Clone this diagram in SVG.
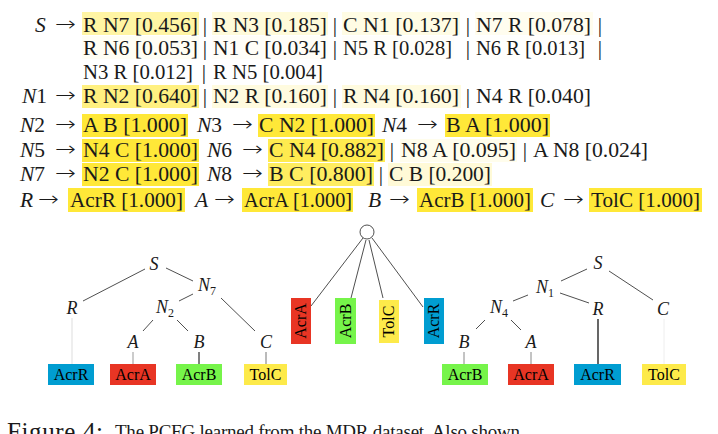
<svg xmlns="http://www.w3.org/2000/svg" width="718" height="434" viewBox="0 0 718 434">
<style>
text{font-family:"Liberation Serif","Times New Roman",serif;fill:#1a1a1a}
.g{font-size:21.5px}
.i{font-style:italic}
.a{font-family:"DejaVu Sans",sans-serif;font-size:20px;font-weight:300}
.hl{fill:#ffe838}
.lb{font-size:18px;font-style:italic;text-anchor:middle}
.sub{font-size:12px;font-style:normal}
.bx{font-size:16px;text-anchor:middle;fill:#000}
.e{stroke:#222;stroke-width:0.8;fill:none}
.acrr{fill:#009dd1}.acra{fill:#e83524}.acrb{fill:#76f44a}.tolc{fill:#fdea4a}
</style>
<rect width="718" height="434" fill="#fff"/>
<g id="grammar">
<!-- Row S -->
<text class="g i" x="35" y="32">S</text><text class="a" transform="translate(55,31) scale(1.25,1)">→</text>
<rect class="hl" x="82" y="12" width="117" height="23" fill-opacity="0.456"/><text class="g" x="83" y="32" textLength="115" lengthAdjust="spacingAndGlyphs">R N7 [0.456]</text>
<text class="g" x="205" y="32" text-anchor="middle">|</text>
<rect class="hl" x="212" y="12" width="116" height="23" fill-opacity="0.185"/><text class="g" x="213" y="32" textLength="114" lengthAdjust="spacingAndGlyphs">R N3 [0.185]</text>
<text class="g" x="335" y="32" text-anchor="middle">|</text>
<rect class="hl" x="342" y="12" width="118" height="23" fill-opacity="0.137"/><text class="g" x="343" y="32" textLength="116" lengthAdjust="spacingAndGlyphs">C N1 [0.137]</text>
<text class="g" x="468" y="32" text-anchor="middle">|</text>
<rect class="hl" x="475" y="12" width="118" height="23" fill-opacity="0.078"/><text class="g" x="476" y="32" textLength="115" lengthAdjust="spacingAndGlyphs">N7 R [0.078]</text>
<text class="g" x="600" y="32" text-anchor="middle">|</text>
<!-- Row 2 -->
<rect class="hl" x="82" y="36" width="117" height="23" fill-opacity="0.053"/><text class="g" x="83" y="55" textLength="115" lengthAdjust="spacingAndGlyphs">R N6 [0.053]</text>
<text class="g" x="205" y="55" text-anchor="middle">|</text>
<rect class="hl" x="212" y="36" width="116" height="23" fill-opacity="0.034"/><text class="g" x="213" y="55" textLength="114" lengthAdjust="spacingAndGlyphs">N1 C [0.034]</text>
<text class="g" x="335" y="55" text-anchor="middle">|</text>
<rect class="hl" x="342" y="36" width="112" height="23" fill-opacity="0.028"/><text class="g" x="343" y="55" textLength="109" lengthAdjust="spacingAndGlyphs">N5 R [0.028]</text>
<text class="g" x="468" y="55" text-anchor="middle">|</text>
<rect class="hl" x="475" y="36" width="111" height="23" fill-opacity="0.013"/><text class="g" x="476" y="55" textLength="109" lengthAdjust="spacingAndGlyphs">N6 R [0.013]</text>
<text class="g" x="600" y="55" text-anchor="middle">|</text>
<!-- Row 3 -->
<text class="g" x="83" y="79" textLength="110" lengthAdjust="spacingAndGlyphs">N3 R [0.012]</text>
<text class="g" x="204" y="79" text-anchor="middle">|</text>
<text class="g" x="213" y="79" textLength="110" lengthAdjust="spacingAndGlyphs">R N5 [0.004]</text>
<!-- Row N1 -->
<text class="g i" x="22" y="103">N<tspan font-style="normal">1</tspan></text><text class="a" transform="translate(55,102) scale(1.25,1)">→</text>
<rect class="hl" x="82" y="85" width="117" height="23" fill-opacity="0.64"/><text class="g" x="83" y="103" textLength="115" lengthAdjust="spacingAndGlyphs">R N2 [0.640]</text>
<text class="g" x="205" y="103" text-anchor="middle">|</text>
<rect class="hl" x="212" y="85" width="116" height="23" fill-opacity="0.16"/><text class="g" x="213" y="103" textLength="114" lengthAdjust="spacingAndGlyphs">N2 R [0.160]</text>
<text class="g" x="335" y="103" text-anchor="middle">|</text>
<rect class="hl" x="342" y="85" width="119" height="23" fill-opacity="0.16"/><text class="g" x="343" y="103" textLength="116" lengthAdjust="spacingAndGlyphs">R N4 [0.160]</text>
<text class="g" x="468" y="103" text-anchor="middle">|</text>
<text class="g" x="476" y="103" textLength="115" lengthAdjust="spacingAndGlyphs">N4 R [0.040]</text>
<!-- Row N2 -->
<text class="g i" x="20" y="132">N<tspan font-style="normal">2</tspan></text><text class="a" transform="translate(55,131) scale(1.25,1)">→</text>
<rect class="hl" x="82" y="114" width="106" height="23"/><text class="g" x="83" y="132" textLength="104" lengthAdjust="spacingAndGlyphs">A B [1.000]</text>
<text class="g i" x="197" y="132">N<tspan font-style="normal">3</tspan></text><text class="a" transform="translate(232,131) scale(1.25,1)">→</text>
<rect class="hl" x="258" y="114" width="117" height="23"/><text class="g" x="259" y="132" textLength="115" lengthAdjust="spacingAndGlyphs">C N2 [1.000]</text>
<text class="g i" x="382" y="132">N<tspan font-style="normal">4</tspan></text><text class="a" transform="translate(417,131) scale(1.25,1)">→</text>
<rect class="hl" x="445" y="114" width="105" height="23"/><text class="g" x="446" y="132" textLength="103" lengthAdjust="spacingAndGlyphs">B A [1.000]</text>
<!-- Row N5 -->
<text class="g i" x="20" y="157">N<tspan font-style="normal">5</tspan></text><text class="a" transform="translate(55,156) scale(1.25,1)">→</text>
<rect class="hl" x="82" y="139" width="117" height="23"/><text class="g" x="83" y="157" textLength="115" lengthAdjust="spacingAndGlyphs">N4 C [1.000]</text>
<text class="g i" x="207" y="157">N<tspan font-style="normal">6</tspan></text><text class="a" transform="translate(242,156) scale(1.25,1)">→</text>
<rect class="hl" x="268" y="139" width="117" height="23" fill-opacity="0.882"/><text class="g" x="269" y="157" textLength="115" lengthAdjust="spacingAndGlyphs">C N4 [0.882]</text>
<text class="g" x="392" y="157" text-anchor="middle">|</text>
<rect class="hl" x="400" y="139" width="117" height="23" fill-opacity="0.095"/><text class="g" x="401" y="157" textLength="115" lengthAdjust="spacingAndGlyphs">N8 A [0.095]</text>
<text class="g" x="525" y="157" text-anchor="middle">|</text>
<text class="g" x="533" y="157" textLength="115" lengthAdjust="spacingAndGlyphs">A N8 [0.024]</text>
<!-- Row N7 -->
<text class="g i" x="20" y="181">N<tspan font-style="normal">7</tspan></text><text class="a" transform="translate(55,180) scale(1.25,1)">→</text>
<rect class="hl" x="82" y="163" width="117" height="23"/><text class="g" x="83" y="181" textLength="115" lengthAdjust="spacingAndGlyphs">N2 C [1.000]</text>
<text class="g i" x="207" y="181">N<tspan font-style="normal">8</tspan></text><text class="a" transform="translate(242,180) scale(1.25,1)">→</text>
<rect class="hl" x="268" y="163" width="106" height="23" fill-opacity="0.8"/><text class="g" x="269" y="181" textLength="104" lengthAdjust="spacingAndGlyphs">B C [0.800]</text>
<text class="g" x="381" y="181" text-anchor="middle">|</text>
<rect class="hl" x="388" y="163" width="104" height="23" fill-opacity="0.2"/><text class="g" x="389" y="181" textLength="102" lengthAdjust="spacingAndGlyphs">C B [0.200]</text>
<!-- Row R -->
<text class="g i" x="20" y="207">R</text><text class="a" transform="translate(38,206) scale(1.25,1)">→</text>
<rect class="hl" x="68" y="188" width="117" height="24"/><text class="g" x="70" y="207" textLength="113" lengthAdjust="spacingAndGlyphs">AcrR [1.000]</text>
<text class="g i" x="195" y="207">A</text><text class="a" transform="translate(214,206) scale(1.25,1)">→</text>
<rect class="hl" x="242" y="188" width="111" height="24"/><text class="g" x="244" y="207" textLength="108" lengthAdjust="spacingAndGlyphs">AcrA [1.000]</text>
<text class="g i" x="368" y="207">B</text><text class="a" transform="translate(389,206) scale(1.25,1)">→</text>
<rect class="hl" x="417" y="188" width="116" height="24"/><text class="g" x="419" y="207" textLength="112" lengthAdjust="spacingAndGlyphs">AcrB [1.000]</text>
<text class="g i" x="540" y="207">C</text><text class="a" transform="translate(563,206) scale(1.25,1)">→</text>
<rect class="hl" x="589" y="188" width="113" height="24"/><text class="g" x="591" y="207" textLength="109" lengthAdjust="spacingAndGlyphs">TolC [1.000]</text>
</g>

<g id="connectors">
<!-- left tree -->
<line class="e" x1="145" y1="269" x2="83" y2="301"/>
<line class="e" x1="166" y1="268" x2="193" y2="281"/>
<line class="e" x1="193" y1="294" x2="179" y2="301"/>
<line class="e" x1="221" y1="298" x2="255" y2="331"/>
<line class="e" x1="153" y1="320" x2="143" y2="331"/>
<line class="e" x1="177" y1="320" x2="188" y2="331"/>
<line x1="72" y1="318" x2="72" y2="364" stroke="#dddddd" stroke-width="1"/>
<line x1="133" y1="352" x2="133" y2="364" stroke="#999" stroke-width="1"/>
<line x1="199" y1="352" x2="199" y2="364" stroke="#000" stroke-width="1"/>
<line x1="266" y1="352" x2="266" y2="364" stroke="#777" stroke-width="1"/>
<!-- middle -->
<line class="e" x1="363" y1="238" x2="311" y2="306"/>
<line class="e" x1="366" y1="240" x2="351" y2="298"/>
<line class="e" x1="369" y1="240" x2="383" y2="298"/>
<line class="e" x1="372" y1="238" x2="423" y2="307"/>
<!-- right tree -->
<line class="e" x1="587" y1="269" x2="561" y2="281"/>
<line class="e" x1="609" y1="271" x2="653" y2="300"/>
<line class="e" x1="528" y1="295" x2="513" y2="301"/>
<line class="e" x1="560" y1="293" x2="589" y2="303"/>
<line class="e" x1="485" y1="320" x2="476" y2="329"/>
<line class="e" x1="511" y1="320" x2="521" y2="330"/>
<line x1="598" y1="319" x2="598" y2="364" stroke="#000" stroke-width="1.2"/>
<line x1="664" y1="319" x2="664" y2="364" stroke="#eeeeee" stroke-width="1"/>
<line x1="464" y1="352" x2="464" y2="364" stroke="#888" stroke-width="1"/>
<line x1="531" y1="352" x2="531" y2="364" stroke="#888" stroke-width="1"/>
</g>

<!-- left tree nodes -->
<g id="L_S"><text class="lb" x="154" y="270">S</text></g>
<g id="L_N7"><text class="lb" x="207" y="291">N<tspan class="sub" dy="4">7</tspan></text></g>
<g id="L_R"><text class="lb" x="72" y="314">R</text></g>
<g id="L_N2"><text class="lb" x="165" y="313">N<tspan class="sub" dy="4">2</tspan></text></g>
<g id="L_A"><text class="lb" x="133" y="348">A</text></g>
<g id="L_B"><text class="lb" x="199" y="348">B</text></g>
<g id="L_C"><text class="lb" x="266" y="348">C</text></g>
<g id="L_AcrR"><rect class="acrr" x="48" y="364" width="46" height="21"/><text class="bx" x="71" y="380">AcrR</text></g>
<g id="L_AcrA"><rect class="acra" x="110" y="364" width="46" height="21"/><text class="bx" x="133" y="380">AcrA</text></g>
<g id="L_AcrB"><rect class="acrb" x="176" y="364" width="46" height="21"/><text class="bx" x="199" y="380">AcrB</text></g>
<g id="L_TolC"><rect class="tolc" x="244" y="364" width="43" height="21"/><text class="bx" x="265.5" y="380">TolC</text></g>

<!-- middle -->
<g id="M_root"><circle cx="367" cy="232" r="7" fill="#fff" stroke="#222" stroke-width="0.8"/></g>
<g id="M_AcrA"><rect class="acra" x="291" y="298" width="20" height="46"/><text class="bx" transform="translate(306,321) rotate(-90)">AcrA</text></g>
<g id="M_AcrB"><rect class="acrb" x="335" y="298" width="21" height="46"/><text class="bx" transform="translate(350.5,321) rotate(-90)">AcrB</text></g>
<g id="M_TolC"><rect class="tolc" x="379" y="300" width="20" height="43"/><text class="bx" transform="translate(394,321.5) rotate(-90)">TolC</text></g>
<g id="M_AcrR"><rect class="acrr" x="424" y="298" width="20" height="46"/><text class="bx" transform="translate(439,321) rotate(-90)">AcrR</text></g>

<!-- right tree nodes -->
<g id="R_S"><text class="lb" x="598" y="269">S</text></g>
<g id="R_N1"><text class="lb" x="545" y="293">N<tspan class="sub" dy="4">1</tspan></text></g>
<g id="R_N4"><text class="lb" x="499" y="313">N<tspan class="sub" dy="4">4</tspan></text></g>
<g id="R_R"><text class="lb" x="598" y="315">R</text></g>
<g id="R_C"><text class="lb" x="663" y="315">C</text></g>
<g id="R_B"><text class="lb" x="464" y="348">B</text></g>
<g id="R_A"><text class="lb" x="531" y="348">A</text></g>
<g id="R_AcrB"><rect class="acrb" x="442" y="364" width="46" height="21"/><text class="bx" x="465" y="380">AcrB</text></g>
<g id="R_AcrA"><rect class="acra" x="508" y="364" width="46" height="21"/><text class="bx" x="531" y="380">AcrA</text></g>
<g id="R_AcrR"><rect class="acrr" x="574" y="364" width="47" height="21"/><text class="bx" x="597.5" y="380">AcrR</text></g>
<g id="R_TolC"><rect class="tolc" x="642" y="364" width="44" height="21"/><text class="bx" x="664" y="380">TolC</text></g>

<g id="caption">
<text x="7" y="440" font-size="25" textLength="96">Figure 4:</text>
<text x="115" y="438" font-size="19" textLength="405">The PCFG learned from the MDR dataset. Also shown</text>
</g>
</svg>
